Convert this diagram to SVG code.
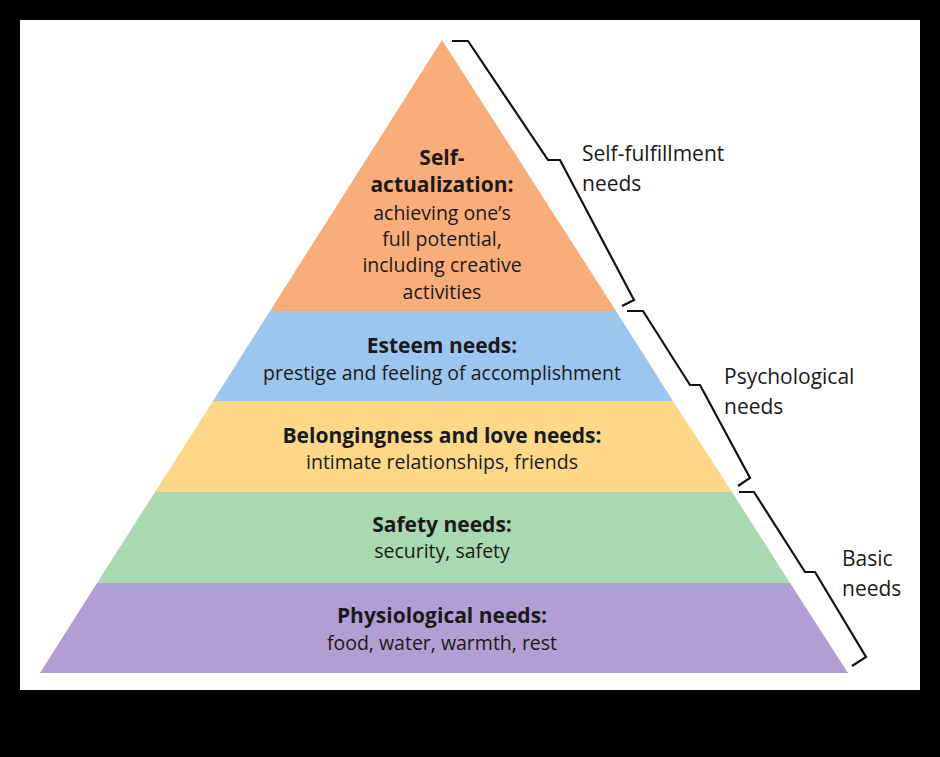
<svg xmlns="http://www.w3.org/2000/svg" width="940" height="757" viewBox="0 0 940 757">
<style>
text{font-family:"Open Sans","Liberation Sans",sans-serif;fill:#1a1a1a;text-anchor:middle}
.b{font-weight:bold;font-size:21px}
.n{font-size:19.5px}
.l{font-size:21px;text-anchor:start}
.br{fill:none;stroke:#111;stroke-width:2.2;stroke-linejoin:miter}
</style>
<rect width="940" height="757" fill="#000"/>
<rect x="20" y="20" width="900" height="670" fill="#fff"/>
<g id="level-self"><polygon points="442,40 616,311 270,311" fill="#F9AE7A"/>
<text class="b" x="442" y="165">Self-</text><text class="b" x="442" y="192">actualization:</text>
<text class="n" x="442" y="220">achieving one’s</text><text class="n" x="442" y="246">full potential,</text>
<text class="n" x="442" y="272">including creative</text><text class="n" x="442" y="299">activities</text></g>
<g id="level-esteem"><polygon points="270,311 616,311 673,401 213,401" fill="#9DC6EE"/>
<text class="b" x="442" y="353">Esteem needs:</text><text class="n" x="442" y="380">prestige and feeling of accomplishment</text></g>
<g id="level-belong"><polygon points="213,401 673,401 732,492 155,492" fill="#FDD889"/>
<text class="b" x="442" y="443">Belongingness and love needs:</text><text class="n" x="442" y="469">intimate relationships, friends</text></g>
<g id="level-safety"><polygon points="155,492 732,492 790,583 97,583" fill="#A8D9B0"/>
<text class="b" x="442" y="532">Safety needs:</text><text class="n" x="442" y="558">security, safety</text></g>
<g id="level-physio"><polygon points="97,583 790,583 848,673 40,673" fill="#B29ED2"/>
<text class="b" x="442" y="623">Physiological needs:</text><text class="n" x="442" y="650">food, water, warmth, rest</text></g>
<g id="connectors">
<polyline class="br" points="452,41 468,41 548,160 560,160 634,300 622,306"/>
<polyline class="br" points="627,311 643,311 690,385 700,385 750,478 738,486"/>
<polyline class="br" points="739,492 754,492 805,572 815,572 866,657 852,666"/>
</g>
<g id="labels">
<text class="l" x="582" y="161">Self-fulfillment</text><text class="l" x="582" y="191">needs</text>
<text class="l" x="724" y="384">Psychological</text><text class="l" x="724" y="414">needs</text>
<text class="l" x="842" y="566">Basic</text><text class="l" x="842" y="596">needs</text>
</g>
</svg>
